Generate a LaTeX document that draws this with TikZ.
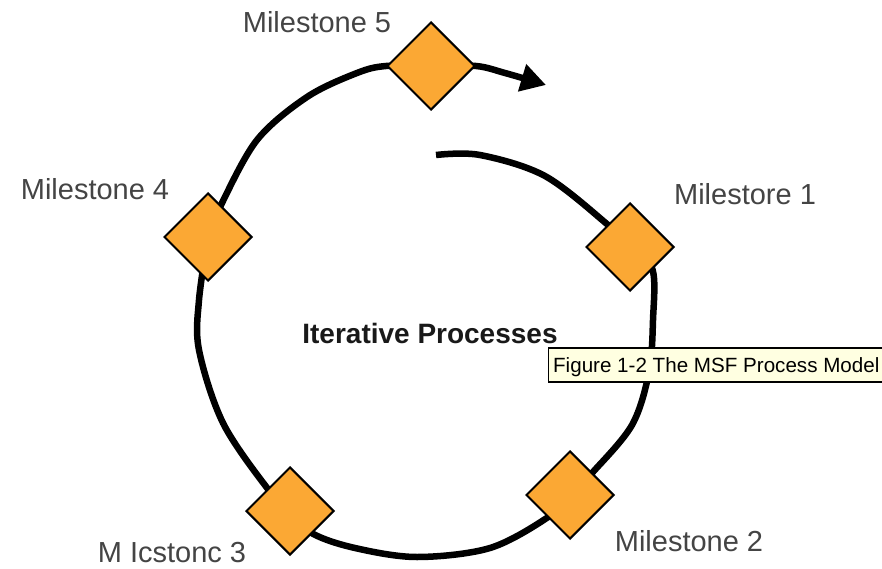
\documentclass[tikz,border=0pt]{standalone}
\usepackage{fontspec}
\setmainfont{Liberation Sans}
\usetikzlibrary{shapes.geometric,arrows.meta,backgrounds}
\definecolor{msorange}{HTML}{FBA834}
\definecolor{tipyellow}{HTML}{FFFFE1}
\definecolor{labelgray}{HTML}{444444}
\begin{document}
\begin{tikzpicture}[x=1pt,y=-1pt,
  milestone/.style={diamond, draw=black, line width=2pt, fill=msorange,
    minimum width=88pt, minimum height=88pt, inner sep=0pt},
  mlabel/.style={text=labelgray, font=\fontsize{29}{34}\selectfont, inner sep=0pt},
  title/.style={text=black!90, font=\bfseries\fontsize{28}{33}\selectfont, inner sep=0pt},
  loop/.style={line width=6.5pt, line cap=butt, black},
  tooltip/.style={draw=black, line width=1.3pt, fill=tipyellow, text=black,
    font=\fontsize{20.6}{24}\selectfont, text height=17pt, text depth=3pt,
    inner xsep=4.5pt, inner ysep=7pt, anchor=west}]
\useasboundingbox (0,0) rectangle (882,569);

% milestone diamonds on the loop
\node[milestone] (m1) at (630,247) {};
\node[milestone] (m2) at (570,495) {};
\node[milestone] (m3) at (290,511) {};
\node[milestone] (m4) at (208,237) {};
\node[milestone] (m5) at (431,66) {};
\coordinate (start) at (436,155);
\coordinate (tip) at (546,85);

% milestone captions
\node[mlabel] (l1) at (745,194) {Milestore 1};
\node[mlabel] (l2) at (689,541) {Milestone 2};
\node[mlabel] (l3) at (172,553) {M Icstonc 3};
\node[mlabel] (l4) at (95,189) {Milestone 4};
\node[mlabel] (l5) at (317,22) {Milestone 5};

% centre caption
\node[title] (iter) at (430,333) {Iterative Processes};

% the spiral, running under the diamonds
\begin{scope}[on background layer, smooth, tension=0.55]
\draw[loop] plot coordinates {(start) (480,155) (545,176) (m1.north west) (m1.center)};
\draw[loop] plot coordinates {(m1.center) (m1.south east) (653,320) (649,372) (632,425) (m2.north east) (m2.center)};
\draw[loop] plot coordinates {(m2.center) (m2.south west) (490,548) (417,557) (355,548) (m3.south east) (m3.center)};
\draw[loop] plot coordinates {(m3.center) (m3.north west) (223,423) (199,350) (199,300) (m4.center)};
\draw[loop] plot coordinates {(m4.center) (221,205) (257,140) (307,97) (357,73) (m5.west) (m5.center)};
\draw[loop, -{Triangle[length=25pt,width=27pt]}] plot coordinates {(m5.center) (m5.east) (505,73) (tip)};
\end{scope}

% hover tooltip
\node[tooltip] (tt) at (548,365) {Figure 1-2 The MSF Process Model};
\end{tikzpicture}
\end{document}
